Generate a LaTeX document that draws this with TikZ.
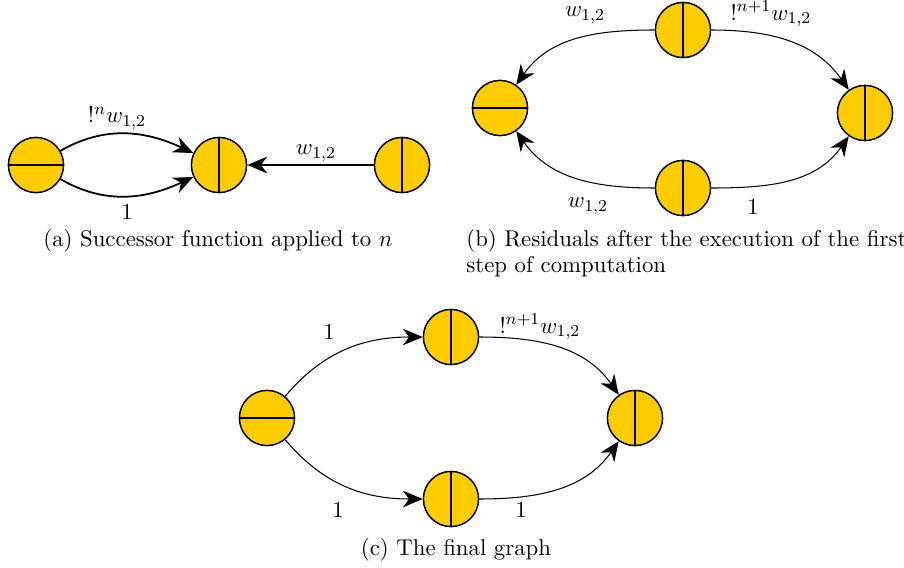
\documentclass[tikz,border=0pt]{standalone}
\usetikzlibrary{arrows.meta}
\definecolor{nodefill}{RGB}{255,204,0}
\tikzset{
  hcell/.style={circle,draw,fill=nodefill,line width=0.7pt,minimum size=26.5pt,inner sep=0pt,
    path picture={\draw[line width=0.7pt] (path picture bounding box.west) -- (path picture bounding box.east);}},
  vcell/.style={circle,draw,fill=nodefill,line width=0.7pt,minimum size=26.5pt,inner sep=0pt,
    path picture={\draw[line width=0.7pt] (path picture bounding box.north) -- (path picture bounding box.south);}},
  thickedge/.style={line width=0.85pt,-{Stealth[length=9.5pt,width=8pt,inset=3pt]}},
  thinedge/.style={line width=0.5pt,-{Stealth[length=9.5pt,width=8pt,inset=3pt]}},
  lbl/.style={inner sep=0pt,font=\fontsize{10.95pt}{13pt}\selectfont},
  captxt/.style={inner sep=0pt,anchor=base,font=\fontsize{10.95pt}{13pt}\selectfont}
}
\begin{document}
\begin{tikzpicture}[x=0.48pt,y=-0.48pt]
\useasboundingbox (0,0) rectangle (904,568);
% (a)
\node[hcell] (a1) at (36,165) {};
\node[vcell] (a2) at (219,165) {};
\node[vcell] (a3) at (402,165) {};
\draw[thickedge] (a1) to[out=30,in=155] (a2);
\draw[thickedge] (a1) to[out=-30,in=205] (a2);
\draw[thickedge] (a3) -- (a2);
\node[lbl] (la1) at (117,118) {$!^n w_{1,2}$};
\node[lbl] (la2) at (127,212) {$1$};
\node[lbl] (la3) at (316,153) {$w_{1,2}$};
\node[captxt] (capa) at (218,246) {(a) Successor function applied to $n$};
% (b)
\node[vcell] (bt) at (683,30) {};
\node[hcell] (bl) at (500,108) {};
\node[vcell] (br) at (865,113) {};
\node[vcell] (bb) at (683,188) {};
\draw[thinedge] (bt) to[out=180,in=55] (bl);
\draw[thinedge] (bt) to[out=0,in=125] (br);
\draw[thinedge] (bb) to[out=180,in=-55] (bl);
\draw[thinedge] (bb) to[out=0,in=235] (br);
\node[lbl] (lb1) at (585,15) {$w_{1,2}$};
\node[lbl] (lb2) at (771,14) {$!^{n+1}w_{1,2}$};
\node[lbl] (lb3) at (588,206) {$w_{1,2}$};
\node[lbl] (lb4) at (753,207) {$1$};
\node[captxt,anchor=base west] (capb1) at (466,246) {(b) Residuals after the execution of the first};
\node[captxt,anchor=base west] (capb2) at (466,272) {step of computation};
% (c)
\node[hcell] (cl) at (267,418) {};
\node[vcell] (ct) at (451,337) {};
\node[vcell] (cb) at (451,499) {};
\node[vcell] (cr) at (635,418) {};
\draw[thinedge] (cl) to[out=50,in=180] (ct);
\draw[thinedge] (cl) to[out=-50,in=180] (cb);
\draw[thinedge] (ct) to[out=0,in=125] (cr);
\draw[thinedge] (cb) to[out=0,in=235] (cr);
\node[lbl] (lc1) at (329,332) {$1$};
\node[lbl] (lc2) at (540,327) {$!^{n+1}w_{1,2}$};
\node[lbl] (lc3) at (338,510) {$1$};
\node[lbl] (lc4) at (521,510) {$1$};
\node[captxt] (capc) at (456,555) {(c) The final graph};
\end{tikzpicture}
\end{document}
